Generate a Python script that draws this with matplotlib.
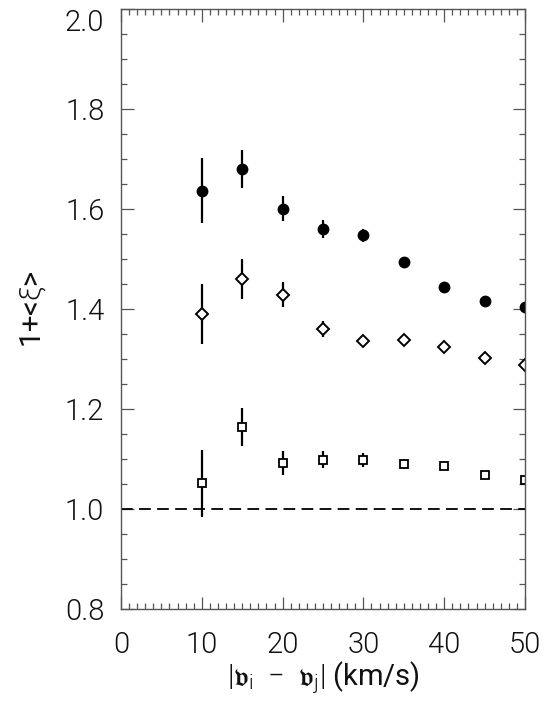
import numpy as np
import matplotlib.pyplot as plt
from matplotlib.ticker import MultipleLocator

# velocity difference bins (km/s)
dv = [10, 15, 20, 25, 30, 35, 40, 45, 50]

# filled circles
y_circ = [1.636, 1.680, 1.600, 1.560, 1.547, 1.493, 1.443, 1.415, 1.403]
e_circ = [0.065, 0.038, 0.025, 0.018, 0.013, 0.009, 0.006, 0.006, 0.006]

# open diamonds
y_diam = [1.390, 1.460, 1.428, 1.360, 1.335, 1.338, 1.323, 1.302, 1.288]
e_diam = [0.060, 0.040, 0.025, 0.016, 0.010, 0.010, 0.007, 0.007, 0.006]

# open squares
y_sq = [1.051, 1.163, 1.092, 1.098, 1.097, 1.090, 1.085, 1.067, 1.058]
e_sq = [0.067, 0.038, 0.024, 0.017, 0.014, 0.010, 0.006, 0.006, 0.005]

# axis ticks
x_ticks = [0, 10, 20, 30, 40, 50]
y_ticks = [0.8, 1.0, 1.2, 1.4, 1.6, 1.8, 2.0]

plt.rcParams['font.family'] = 'Roboto'
plt.rcParams['font.weight'] = 300
plt.rcParams['mathtext.fontset'] = 'custom'
plt.rcParams['mathtext.rm'] = 'Roboto:weight=300'
plt.rcParams['mathtext.it'] = 'Roboto:weight=300'

fig = plt.figure(figsize=(5.49, 7.14), dpi=100)
ax = fig.add_axes([0.2204, 0.1471, 0.7359, 0.8403])

ax.errorbar(dv, y_circ, yerr=e_circ, fmt='o', color='black', ms=7.5,
            elinewidth=1.6, capsize=0)
ax.errorbar(dv, y_diam, yerr=e_diam, fmt='D', color='black', mfc='white',
            ms=6, mew=1.4, elinewidth=1.6, capsize=0)
ax.errorbar(dv, y_sq, yerr=e_sq, fmt='s', color='black', mfc='white',
            ms=6, mew=1.3, elinewidth=1.6, capsize=0)

ax.axhline(1.0, color='black', lw=1.3, ls=(0, (6.5, 3.5)))

ax.set_xlim(0, 50)
ax.set_ylim(0.8, 2.0)
ax.set_xticks(x_ticks)
ax.set_yticks(y_ticks)
ax.set_yticklabels(['%.1f' % v for v in y_ticks])
ax.xaxis.set_minor_locator(MultipleLocator(1))
ax.yaxis.set_minor_locator(MultipleLocator(0.05))

ax.tick_params(which='both', direction='in', top=True, right=True,
               color='#555555', width=0.9)
ax.tick_params(which='major', length=9, labelsize=21, labelcolor='#111111')
ax.tick_params(axis='x', which='major', pad=16)
ax.tick_params(axis='y', which='major', pad=12)
ax.tick_params(which='minor', length=4)
for s in ax.spines.values():
    s.set_color('#555555')
    s.set_linewidth(1.0)

# top label sits below its tick so it stays inside the figure
ax.yaxis.get_major_ticks()[-1].label1.set_verticalalignment('top')

ax.set_xlabel(r'$|\mathfrak{v}_{\rm i}\ -\ \mathfrak{v}_{\rm j}|$ (km/s)',
              fontsize=21, color='#111111', labelpad=0)
ax.set_ylabel(r'1+<$\xi$>', fontsize=21, color='#111111', labelpad=12)

fig.savefig('out.png', dpi=100)
